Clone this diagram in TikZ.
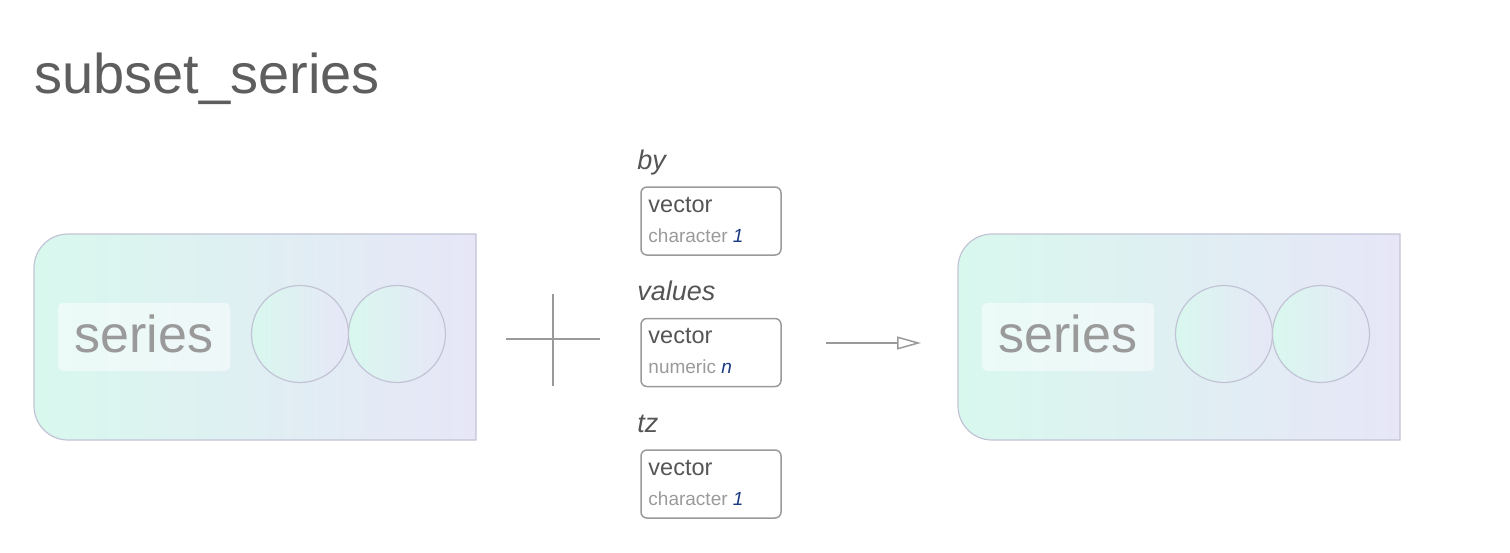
\documentclass[tikz,border=0pt]{standalone}
\usepackage{fontspec}
\setmainfont{Liberation Sans}
\usetikzlibrary{arrows.meta, positioning, calc}
\definecolor{titlegray}{HTML}{5E5E5E}
\definecolor{softgray}{HTML}{9A9A9A}
\definecolor{darktext}{HTML}{555555}
\definecolor{mintc}{HTML}{D8F8EE}
\definecolor{lavc}{HTML}{E7E6F7}
\definecolor{edgec}{HTML}{C2C4D6}
\definecolor{navy}{HTML}{1B3A80}
\tikzset{
  title/.style={text=titlegray, font=\fontsize{56}{60}\selectfont, inner sep=0pt},
  serbox/.style={draw=edgec, line width=1.2pt, left color=mintc, right color=lavc},
  serlabel/.style={fill=white, fill opacity=0.5, text opacity=1, text=softgray, rounded corners=5pt, inner sep=0pt, minimum width=172pt, minimum height=68pt, text height=30pt, text depth=0pt, font=\fontsize{52}{55}\selectfont},
  knot/.style={circle, draw=edgec, line width=1.2pt, left color=mintc, right color=lavc, minimum size=97pt, inner sep=0pt},
  argbox/.style={draw=softgray, rectangle, rounded corners=6pt, line width=1.5pt, minimum width=140pt, minimum height=68pt, inner sep=0pt},
  arglabel/.style={text=darktext, font=\fontsize{27}{30}\selectfont\itshape, inner sep=0pt},
  typemain/.style={text=darktext, font=\fontsize{23.5}{26}\selectfont, inner sep=0pt},
  typesub/.style={text=softgray, font=\fontsize{19}{21}\selectfont, inner sep=0pt},
  crossline/.style={draw=softgray, line width=2pt},
  arrow/.style={-{Triangle[open, length=24pt, width=13pt]}, line width=1.5pt, draw=softgray}
}

\begin{document}
\begin{tikzpicture}[x=1pt, y=1pt, node distance=62pt]
\useasboundingbox (0,0) rectangle (1510,-552);

\node[title, anchor=base west] (ttl) at (34,-93) {subset\_series};

% input series
\draw[serbox] (476,-234) -- (68,-234) arc[start angle=90, end angle=180, radius=34]
  -- (34,-406) arc[start angle=180, end angle=270, radius=34] -- (476,-440) -- cycle;
\node[serlabel] (inLabel) at (144,-337) {series};
\node[knot] (inKnotA) at (300,-334) {};
\node[knot] (inKnotB) at (397,-334) {};

% plus sign
\coordinate (plusW) at (506,-339);
\coordinate (plusE) at (600,-339);
\coordinate (plusN) at (553,-294);
\coordinate (plusS) at (553,-386);
\draw[crossline] (plusW) -- (plusE);
\draw[crossline] (plusN) -- (plusS);

% arguments
\node[argbox] (byBox) at (711,-221) {};
\node[argbox, below=of byBox] (valBox) {};
\node[argbox, below=of valBox] (tzBox) {};

\node[arglabel, anchor=base west] (byLabel) at ([shift={(-3,17)}]byBox.north west) {by};
\node[arglabel, anchor=base west] (valLabel) at ([shift={(-3,17)}]valBox.north west) {values};
\node[arglabel, anchor=base west] (tzLabel) at ([shift={(-3,17)}]tzBox.north west) {tz};

\node[typemain, anchor=base west] (byType) at ([shift={(8,-26)}]byBox.north west) {vector};
\node[typesub, anchor=base west] (byMode) at ([shift={(8,-56)}]byBox.north west) {character {\color{navy}\itshape 1}};
\node[typemain, anchor=base west] (valType) at ([shift={(8,-26)}]valBox.north west) {vector};
\node[typesub, anchor=base west] (valMode) at ([shift={(8,-56)}]valBox.north west) {numeric {\color{navy}\itshape n}};
\node[typemain, anchor=base west] (tzType) at ([shift={(8,-26)}]tzBox.north west) {vector};
\node[typesub, anchor=base west] (tzMode) at ([shift={(8,-56)}]tzBox.north west) {character {\color{navy}\itshape 1}};

% result arrow
\coordinate (arrS) at (826,-343);
\coordinate (arrE) at (921,-343);
\draw[arrow] (arrS) -- (arrE);

% output series
\draw[serbox] (1400,-234) -- (992,-234) arc[start angle=90, end angle=180, radius=34]
  -- (958,-406) arc[start angle=180, end angle=270, radius=34] -- (1400,-440) -- cycle;
\node[serlabel] (outLabel) at (1068,-337) {series};
\node[knot] (outKnotA) at (1224,-334) {};
\node[knot] (outKnotB) at (1321,-334) {};

\end{tikzpicture}
\end{document}
